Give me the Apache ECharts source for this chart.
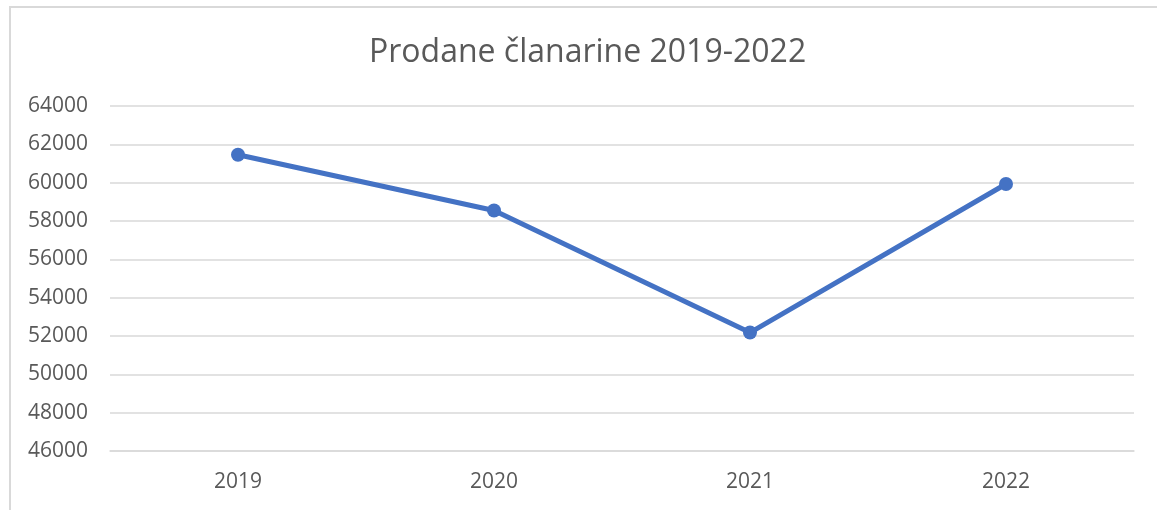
<!DOCTYPE html>
<html>
<head>
<meta charset="utf-8">
<script src="https://cdn.jsdelivr.net/npm/echarts@6/dist/echarts.min.js"></script>
<style>
  html, body { margin: 0; padding: 0; background: #ffffff; }
  #frame { position: absolute; left: 9px; top: 6px; width: 1300px; height: 700px; border: 2px solid #d9d9d9; box-sizing: border-box; }
  #chart { position: absolute; left: 0; top: 0; width: 1157px; height: 510px; }
</style>
</head>
<body>
<div id="frame"></div>
<div id="chart"></div>
<script>
const titleText = 'Prodane članarine 2019-2022';
const categories = ['2019', '2020', '2021', '2022'];
const values = [61460, 58550, 52180, 59930];
const yMin = 46000;
const yMax = 64000;
const yStep = 2000;

const chart = echarts.init(document.getElementById('chart'), null, { renderer: 'canvas' });
chart.setOption({
  animation: false,
  backgroundColor: 'transparent',
  title: {
    text: titleText,
    left: 364,
    top: 32,
    textStyle: { fontFamily: 'Open Sans', fontSize: 32, fontWeight: 'normal', color: '#595959' }
  },
  grid: { left: 110, right: 23, top: 106, bottom: 59, containLabel: false },
  xAxis: {
    type: 'category',
    data: categories,
    boundaryGap: true,
    axisLine: { show: true, lineStyle: { color: '#d9d9d9', width: 1.5 } },
    axisTick: { show: false },
    axisLabel: { fontFamily: 'Open Sans', fontSize: 21, color: '#595959', margin: 21 }
  },
  yAxis: {
    type: 'value',
    min: yMin,
    max: yMax,
    interval: yStep,
    axisLine: { show: false },
    axisTick: { show: false },
    axisLabel: { fontFamily: 'Open Sans', fontSize: 21, color: '#595959', margin: 22, formatter: function (v) { return String(v); } },
    splitLine: { show: true, lineStyle: { color: '#d9d9d9', width: 1.5 } }
  },
  series: [{
    type: 'line',
    data: values,
    symbol: 'circle',
    symbolSize: 14,
    lineStyle: { color: '#4472C4', width: 5 },
    itemStyle: { color: '#4472C4' }
  }]
});
</script>
</body>
</html>
